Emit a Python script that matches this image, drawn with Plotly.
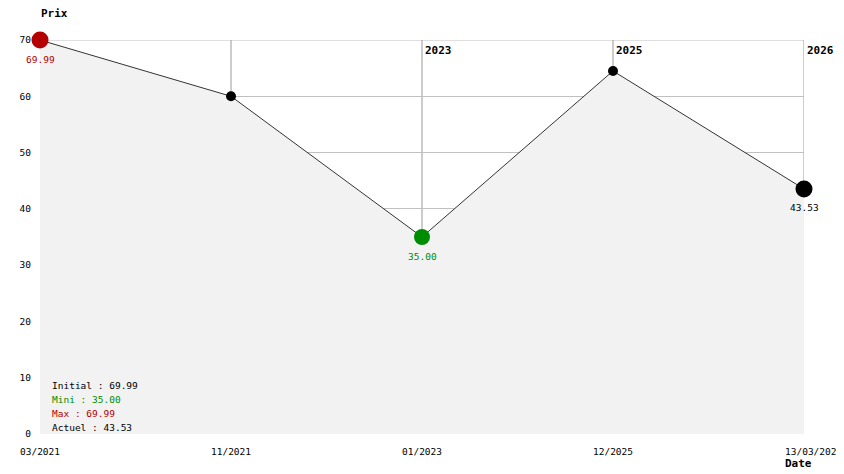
import plotly.graph_objects as go

# ---- data ----
dates = ["03/2021", "11/2021", "01/2023", "12/2025", "13/03/2026"]
prices = [69.99, 60.0, 35.00, 64.5, 43.53]
year_labels = ["", "", "2023", "2025", "2026"]
summary_labels = ["Initial : 69.99", "Mini : 35.00", "Max : 69.99", "Actuel : 43.53"]
point_labels = ["69.99", "", "35.00", "", "43.53"]

RED = "#b40000"
GREEN = "#008c00"
BLACK = "#000000"
FONT = "DejaVu Sans Mono"
FS = 9.5

# page has an 8px body margin; compensate so the plot area lands at 40..804 x 40..434
OFF = 8
W, H = 844 - OFF, 474 - OFF
L, R, T, B = 40 - OFF, 40, 40 - OFF, 40
PW, PH = W - L - R, H - T - B


def px(xpage):
    return (xpage - OFF - L) / PW


def py(ypage):
    return (H - B - (ypage - OFF)) / PH


xs = list(range(len(dates)))
marker_colors = [RED, BLACK, GREEN, BLACK, BLACK]
marker_sizes = [17, 10, 16, 10, 17]
label_colors = [RED, BLACK, GREEN, BLACK, BLACK]
summary_colors = [BLACK, GREEN, RED, BLACK]

fig = go.Figure()
fig.add_trace(go.Scatter(
    x=xs, y=prices, mode="lines", fill="tozeroy", fillcolor="#f2f2f2",
    line=dict(color="#333333", width=1), hoverinfo="skip", cliponaxis=False,
))
fig.add_trace(go.Scatter(
    x=xs, y=prices, mode="markers",
    marker=dict(color=marker_colors, size=marker_sizes, opacity=1, line=dict(width=0)),
    cliponaxis=False,
))

shapes = [dict(type="line", xref="paper", yref="y", x0=0, x1=1, y0=70, y1=70,
               line=dict(color="#c0c0c0", width=1), layer="below")]
annotations = []
for i in range(1, len(xs)):
    shapes.append(dict(type="line", xref="x", yref="y", x0=xs[i], x1=xs[i],
                       y0=prices[i], y1=70, line=dict(color="#999999", width=1),
                       layer="below"))
for i, lab in enumerate(year_labels):
    if lab:
        annotations.append(dict(x=xs[i], y=70, xref="x", yref="y", text=f"<b>{lab}</b>",
                                showarrow=False, xanchor="left", yanchor="top",
                                xshift=1, yshift=-2,
                                font=dict(family=FONT, size=11, color=BLACK)))
for i, lab in enumerate(point_labels):
    if lab:
        annotations.append(dict(x=xs[i], y=prices[i], xref="x", yref="y", text=lab,
                                showarrow=False, xanchor="center", yanchor="middle",
                                yshift=-19,
                                font=dict(family=FONT, size=FS, color=label_colors[i])))
for k, lab in enumerate(summary_labels):
    ypix = 385 + 14 * k
    annotations.append(dict(x=px(50), y=py(ypix), xref="paper", yref="paper",
                            text=lab, showarrow=False, xanchor="left", yanchor="middle",
                            font=dict(family=FONT, size=FS, color=summary_colors[k])))
# last x label (overflows plot edge, as in the original)
annotations.append(dict(x=xs[-1], y=0, xref="x", yref="y", text=dates[-1], showarrow=False,
                        xanchor="left", yanchor="middle", xshift=-21, yshift=-17,
                        font=dict(family=FONT, size=FS, color=BLACK)))
annotations.append(dict(x=px(39), y=py(13.5), xref="paper", yref="paper",
                        text="<b>Prix</b>", showarrow=False, xanchor="left", yanchor="middle",
                        font=dict(family=FONT, size=11, color=BLACK)))
annotations.append(dict(x=px(783), y=py(463), xref="paper", yref="paper",
                        text="<b>Date</b>", showarrow=False, xanchor="left", yanchor="middle",
                        font=dict(family=FONT, size=11, color=BLACK)))

fig.update_layout(
    width=W, height=H, margin=dict(l=L, r=R, t=T, b=B, autoexpand=False),
    paper_bgcolor="white", plot_bgcolor="white", showlegend=False,
    shapes=shapes, annotations=annotations,
    xaxis=dict(range=[0, 4], showgrid=False, zeroline=False, showline=False, automargin=False,
               tickmode="array", tickvals=xs[:-1], ticktext=dates[:-1], ticklabelstandoff=10,
               tickfont=dict(family=FONT, size=FS, color=BLACK), ticks=""),
    yaxis=dict(range=[0, 70], dtick=10, showgrid=True, gridcolor="#c0c0c0", gridwidth=1,
               zeroline=False, showline=False, ticks="", automargin=False, ticklabelstandoff=8,
               tickfont=dict(family=FONT, size=FS, color=BLACK)),
)

fig.write_html("out.html")
